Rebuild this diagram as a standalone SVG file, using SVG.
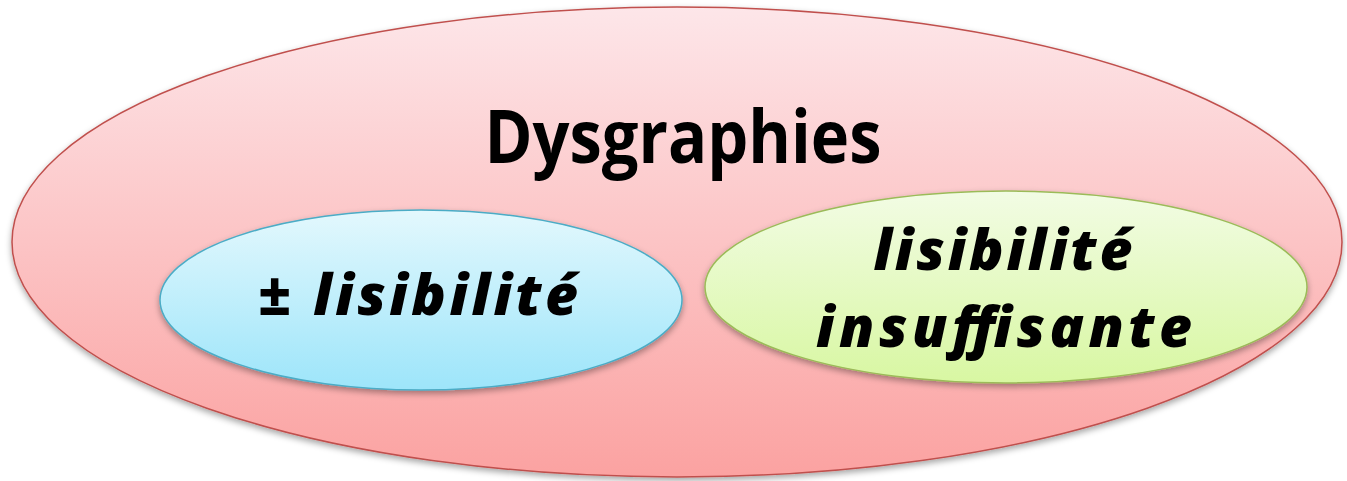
<svg xmlns="http://www.w3.org/2000/svg" width="1347" height="481" viewBox="0 0 1347 481">
<defs>
<linearGradient id="gRed" x1="0" y1="0" x2="0" y2="1"><stop offset="0" stop-color="#fde6e9"/><stop offset="1" stop-color="#fba2a1"/></linearGradient>
<linearGradient id="gBlue" x1="0" y1="0" x2="0" y2="1"><stop offset="0" stop-color="#e3f8fd"/><stop offset="1" stop-color="#9de5fa"/></linearGradient>
<linearGradient id="gGreen" x1="0" y1="0" x2="0" y2="1"><stop offset="0" stop-color="#f2fce4"/><stop offset="1" stop-color="#d8f7a2"/></linearGradient>
<filter id="sh" x="-10%" y="-10%" width="120%" height="130%"><feDropShadow dx="0" dy="3" stdDeviation="3" flood-color="#000" flood-opacity="0.35"/></filter>
<style>
.lab{font-family:"Open Sans","Liberation Sans",sans-serif;fill:#000;}
.it{font-style:italic;font-weight:800;font-size:57px;}
</style>
</defs>
<g id="dysgraphies">
<ellipse cx="677" cy="242" rx="665" ry="235" fill="url(#gRed)" stroke="#c0504d" stroke-width="1.5" filter="url(#sh)"/>
<text class="lab" x="683" y="163" text-anchor="middle" font-size="74" font-weight="bold" textLength="397" lengthAdjust="spacingAndGlyphs">Dysgraphies</text>
</g>
<g id="plus-minus-lisibilite">
<ellipse cx="421" cy="300" rx="261" ry="90" fill="url(#gBlue)" stroke="#4bacc6" stroke-width="1.5" filter="url(#sh)"/>
<text class="lab it" x="418" y="315" text-anchor="middle" textLength="320" lengthAdjust="spacing">± lisibilité</text>
</g>
<g id="lisibilite-insuffisante">
<ellipse cx="1006" cy="287" rx="301" ry="96" fill="url(#gGreen)" stroke="#9bbb59" stroke-width="1.5" filter="url(#sh)"/>
<text class="lab it" x="1003" y="270" text-anchor="middle" textLength="259" lengthAdjust="spacing">lisibilité</text>
<text class="lab it" x="1004" y="347" text-anchor="middle" textLength="376" lengthAdjust="spacing">insuffisante</text>
</g>
<g id="connectors"/>
</svg>
